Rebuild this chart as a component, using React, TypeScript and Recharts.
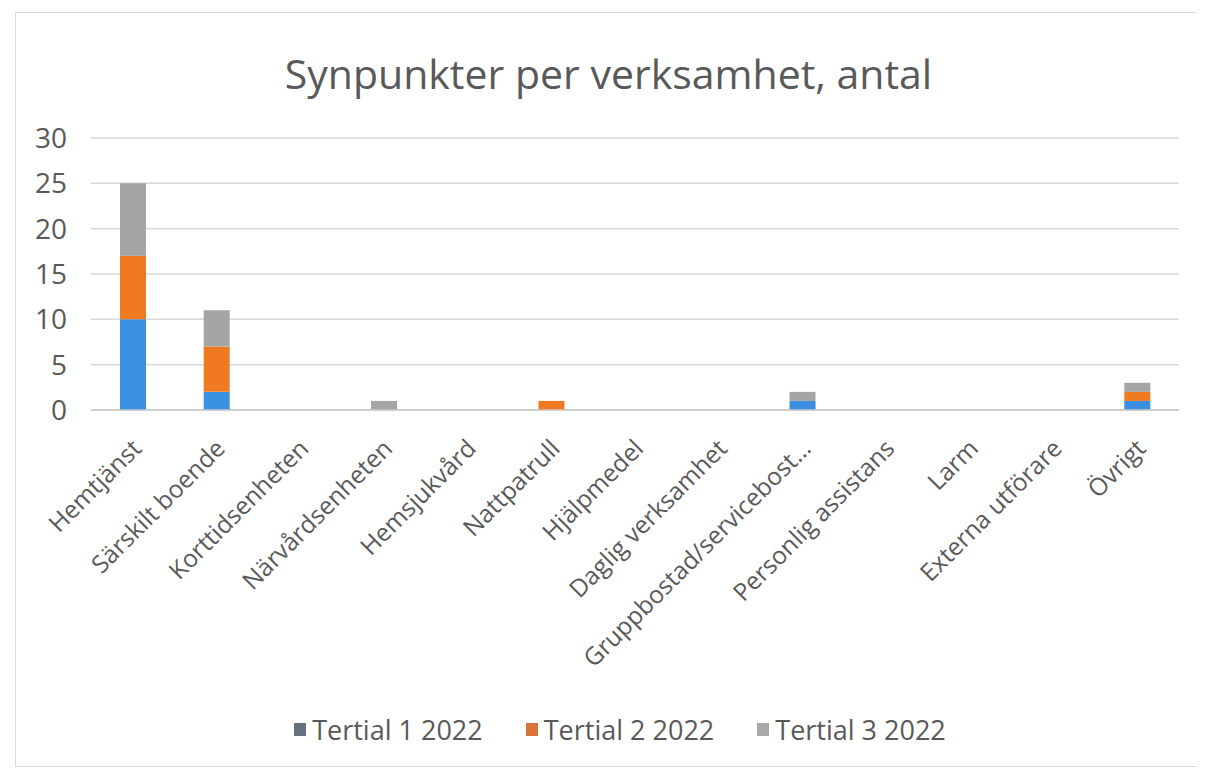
import React from "react";
import { BarChart, Bar, XAxis, YAxis, CartesianGrid, Legend } from "recharts";

const categories = [
  "Hemtjänst",
  "Särskilt boende",
  "Korttidsenheten",
  "Närvårdsenheten",
  "Hemsjukvård",
  "Nattpatrull",
  "Hjälpmedel",
  "Daglig verksamhet",
  "Gruppbostad/servicebost…",
  "Personlig assistans",
  "Larm",
  "Externa utförare",
  "Övrigt",
];
const tertial1 = [10, 2, 0, 0, 0, 0, 0, 0, 1, 0, 0, 0, 1];
const tertial2 = [7, 5, 0, 0, 0, 1, 0, 0, 0, 0, 0, 0, 1];
const tertial3 = [8, 4, 0, 1, 0, 0, 0, 0, 1, 0, 0, 0, 1];
const seriesNames = ["Tertial 1 2022", "Tertial 2 2022", "Tertial 3 2022"];
const yTicks = [0, 5, 10, 15, 20, 25, 30];
const title = "Synpunkter per verksamhet, antal";

const barColors = ["#3A8FE0", "#F07A22", "#A5A5A5"];
const legendColors = ["#66737F", "#D9733A", "#A8A8A8"];
const FONT = "'Open Sans', 'Noto Sans', sans-serif";
const TEXT = "#595959";

const data = categories.map((c, i) => ({
  name: c,
  t1: tertial1[i],
  t2: tertial2[i],
  t3: tertial3[i],
}));

const XTick = (props: any) => {
  const { x, y, payload } = props;
  return (
    <g transform={`translate(${x + 10},${y + 38})`}>
      <text
        transform="rotate(-45)"
        x={0}
        y={0}
        textAnchor="end"
        fill={TEXT}
        fontSize={24.5}
        fontFamily={FONT}
      >
        {payload.value}
      </text>
    </g>
  );
};

const LegendContent = () => (
  <div
    style={{
      display: "flex",
      justifyContent: "center",
      alignItems: "center",
      fontFamily: FONT,
      fontSize: 27,
      color: TEXT,
      height: 30,
      paddingLeft: 30,
    }}
  >
    {seriesNames.map((n, i) => (
      <div key={n} style={{ display: "flex", alignItems: "center", marginRight: i < 2 ? 43 : 0 }}>
        <span
          style={{
            display: "inline-block",
            width: 12,
            height: 13,
            background: legendColors[i],
            marginRight: 6,
          }}
        />
        <span>{n}</span>
      </div>
    ))}
  </div>
);

export default function App() {
  return (
    <div
      style={{
        position: "relative",
        marginLeft: 7,
        marginTop: 4,
        width: 1185,
        height: 753,
        border: "1px solid #D9D9D9",
        background: "#fff",
      }}
    >
      <div
        style={{
          position: "absolute",
          top: 35,
          left: 0,
          width: 1185,
          textAlign: "center",
          fontFamily: FONT,
          fontSize: 41,
          color: TEXT,
          lineHeight: "50px",
        }}
      >
        {title}
      </div>
      <BarChart
        width={1185}
        height={753}
        data={data}
        margin={{ top: 125, right: 22, bottom: 22, left: 15 }}
        barSize={26}
      >
        <CartesianGrid vertical={false} stroke="#D9D9D9" strokeWidth={1.5} />
        <XAxis
          dataKey="name"
          interval={0}
          height={304}
          tickLine={false}
          tickSize={0}
          axisLine={{ stroke: "#C8C8C8", strokeWidth: 1.5 }}
          tick={<XTick />}
        />
        <YAxis
          width={60}
          domain={[0, 30]}
          ticks={yTicks}
          interval={0}
          axisLine={false}
          tickLine={false}
          tickSize={0}
          tickMargin={24}
          tick={{ fill: TEXT, fontSize: 28, fontFamily: FONT }}
        />
        <Legend verticalAlign="bottom" height={30} content={<LegendContent />} />
        <Bar dataKey="t1" name={seriesNames[0]} stackId="a" fill={barColors[0]} isAnimationActive={false} />
        <Bar dataKey="t2" name={seriesNames[1]} stackId="a" fill={barColors[1]} isAnimationActive={false} />
        <Bar dataKey="t3" name={seriesNames[2]} stackId="a" fill={barColors[2]} isAnimationActive={false} />
      </BarChart>
    </div>
  );
}
